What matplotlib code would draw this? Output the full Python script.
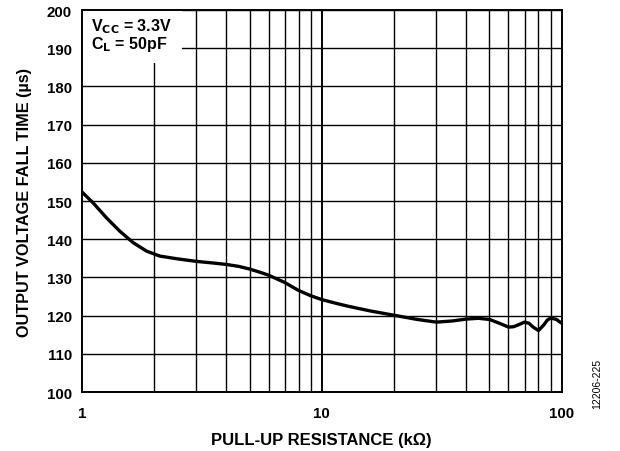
import matplotlib.pyplot as plt
import numpy as np

plt.rcParams['font.family'] = ['Liberation Sans', 'DejaVu Sans']

# pull-up resistance (kOhm) and fall time (us)
res_kohm = [1.0, 1.115, 1.267, 1.44, 1.637, 1.86, 2.11, 2.48, 3.0, 3.5, 4.0,
            4.5, 5.0, 5.5, 6.0, 6.5, 7.0, 7.5, 8.0, 9.0, 10.0, 11.5, 13.0,
            16.0, 20.0, 25.0, 30.0, 35.0, 40.0, 45.0, 50.0, 55.0, 60.0, 63.0,
            66.0, 70.0, 73.0, 76.0, 80.0, 84.0, 87.0, 90.0, 95.0, 100.0]
fall_us = [152.4, 149.5, 145.6, 142.1, 139.1, 136.9, 135.6, 134.9, 134.2,
           133.8, 133.4, 132.9, 132.2, 131.4, 130.6, 129.6, 128.7, 127.6,
           126.6, 125.2, 124.2, 123.2, 122.4, 121.2, 120.1, 119.0, 118.3,
           118.6, 119.1, 119.3, 119.0, 118.0, 117.0, 117.1, 117.6, 118.3,
           118.0, 117.0, 116.1, 117.5, 118.8, 119.4, 119.0, 118.0]

yticks = list(range(100, 201, 10))
xticks = [1, 10, 100]
xticklabels = ['1', '10', '100']

fig = plt.figure(figsize=(6.2, 4.52), dpi=100)
ax = fig.add_axes([0.132, 0.1305, 0.774, 0.845])

ax.set_xscale('log')
ax.set_xlim(1, 100)
ax.set_ylim(100, 200)

# grid: horizontal every 10, vertical at each log minor/major
for y in yticks:
    ax.axhline(y, color='black', lw=1.0, zorder=1)
for dec in [1, 10]:
    for m in range(2, 10):
        ax.axvline(dec * m, color='black', lw=1.0, zorder=1)
ax.axvline(10, color='black', lw=1.4, zorder=1)

ax.plot(res_kohm, fall_us, color='black', lw=2.4, zorder=3,
        solid_capstyle='butt', solid_joinstyle='round')

# white box behind annotation
ax.fill_between([1, 2.62], 186.2, 200, color='white', zorder=2, lw=0)
ax.text(1.09, 194.6, r'V$_{\mathbf{CC}}$ = 3.3V', fontsize=11.5, fontweight='bold',
        va='baseline', ha='left', zorder=4)
ax.text(1.09, 190.2, r'C$_{\mathbf{L}}$ = 50pF', fontsize=11.5, fontweight='bold',
        va='baseline', ha='left', zorder=4)

ax.set_xticks(xticks)
ax.set_xticklabels(xticklabels)
ax.xaxis.set_minor_locator(plt.NullLocator())
ax.set_yticks(yticks)
ax.tick_params(axis='x', length=0, labelsize=10.8, pad=10)
ax.tick_params(axis='y', length=0, labelsize=10.8, pad=7)
for lab in ax.get_xticklabels() + ax.get_yticklabels():
    lab.set_fontweight('bold')

for sp in ax.spines.values():
    sp.set_color('black')
    sp.set_linewidth(1.4)

ax.set_xlabel('PULL-UP RESISTANCE (kΩ)', fontsize=12, fontweight='bold', labelpad=9)
ax.set_ylabel('OUTPUT VOLTAGE FALL TIME (µs)', fontsize=11.7, fontweight='bold', labelpad=11)

fig.text(0.963, 0.15, '12206-225', rotation=90, fontsize=7.5, ha='center', va='center')

fig.savefig('out.png', dpi=100)
